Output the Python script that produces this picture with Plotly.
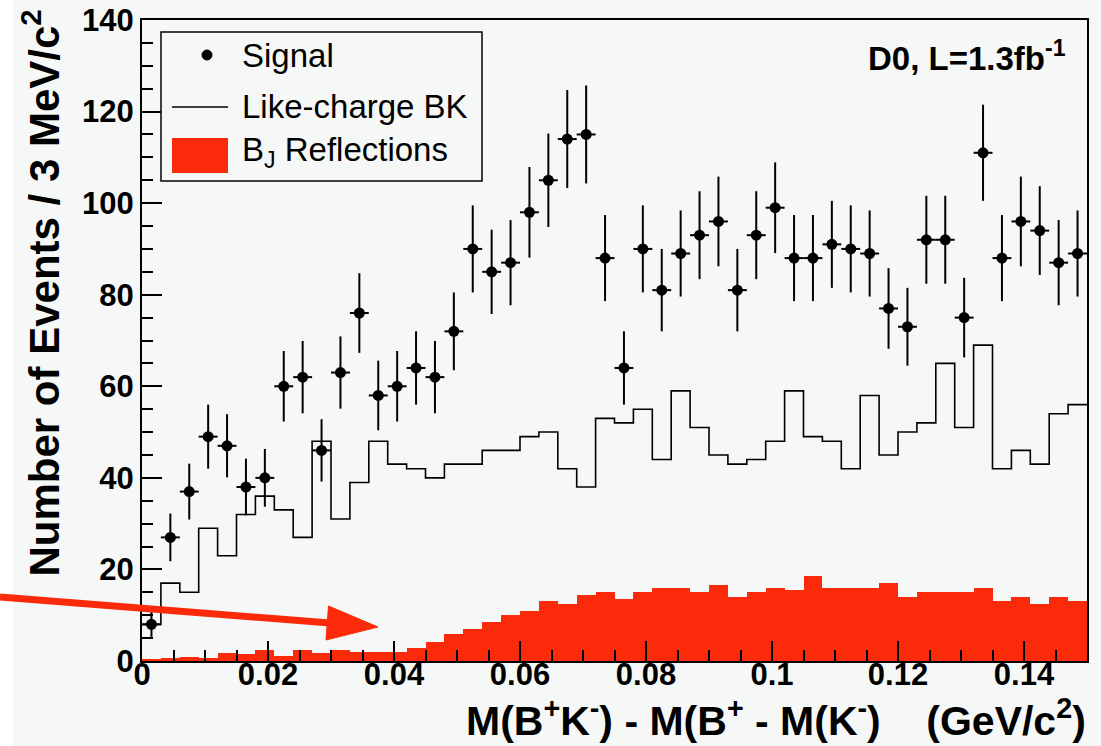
import numpy as np
import plotly.graph_objects as go

# ---------------- data ----------------
x_min, x_max, n_bins = 0.0, 0.15, 50          # 3 MeV/c^2 bins
bin_width = (x_max - x_min) / n_bins

signal = [8, 27, 37, 49, 47, 38, 40, 60, 62, 46,
          63, 76, 58, 60, 64, 62, 72, 90, 85, 87,
          98, 105, 114, 115, 88, 64, 90, 81, 89, 93,
          96, 81, 93, 99, 88, 88, 91, 90, 89, 77,
          73, 92, 92, 75, 111, 88, 96, 94, 87, 89]

signal_err = [2.8, 5.2, 6.1, 7.0, 6.9, 6.2, 6.3, 7.7, 7.9, 6.8,
              7.9, 8.7, 7.6, 7.7, 8.0, 7.9, 8.5, 9.5, 9.2, 9.3,
              9.9, 10.2, 10.7, 10.7, 9.4, 8.0, 9.5, 9.0, 9.4, 9.6,
              9.8, 9.0, 9.6, 9.9, 9.4, 9.4, 9.5, 9.5, 9.4, 8.8,
              8.5, 9.6, 9.6, 8.7, 10.5, 9.4, 9.8, 9.7, 9.3, 9.4]

like_charge_bk = [8, 17, 15, 29, 23, 32, 36, 33, 27, 48,
                  31, 39, 48, 43, 42, 40, 43, 43, 46, 46,
                  49, 50, 42, 38, 53, 52, 55, 44, 59, 51,
                  45, 43, 44, 48, 59, 49, 48, 42, 58, 45,
                  50, 52, 65, 51, 69, 42, 46, 43, 54, 56]

bj_reflections = [0.3, 0.6, 0.95, 0.6, 1.7, 1.5, 2.5, 1.0, 2.3, 1.7,
                  2.4, 2.0, 2.0, 2.0, 2.8, 4.2, 6.0, 7.0, 8.5, 10.0,
                  11.0, 13.0, 12.5, 14.5, 15.0, 13.5, 15.0, 16.0, 16.0, 15.0,
                  16.5, 14.0, 15.0, 16.0, 15.5, 18.5, 16.0, 16.0, 16.0, 17.0,
                  14.0, 15.0, 15.0, 15.0, 16.0, 13.0, 14.0, 12.5, 14.0, 13.0]

x_tickvals = [0, 0.02, 0.04, 0.06, 0.08, 0.1, 0.12, 0.14]
y_tickvals = [0, 20, 40, 60, 80, 100, 120, 140]

edges = np.linspace(x_min, x_max, n_bins + 1)
centers = 0.5 * (edges[:-1] + edges[1:])

# ---------------- style ----------------
BG = "#f5f8f7"
RED = "#fa2a0a"
FONT = "Liberation Sans, Arial, Helvetica, sans-serif"

W, H = 1101, 746
L, R, T, B = 142, 14, 20, 85
PW, PH = W - L - R, H - T - B


def px(xp):   # page pixel -> paper x
    return (xp - L) / PW


def py(yp):   # page pixel -> paper y
    return (H - B - yp) / PH


fig = go.Figure()

# B_J reflections (filled red histogram)
fig.add_trace(go.Bar(
    x=centers, y=bj_reflections, width=bin_width,
    marker=dict(color=RED, line=dict(width=0)),
    name="B_J Reflections", showlegend=False,
))

# Like-charge background (step outline)
fig.add_trace(go.Scatter(
    x=list(edges), y=like_charge_bk + [like_charge_bk[-1]],
    mode="lines", line=dict(color="black", width=1.6, shape="hv"),
    name="Like-charge BK", showlegend=False,
))

# Signal points with errors
fig.add_trace(go.Scatter(
    x=centers, y=signal, mode="markers",
    marker=dict(color="black", size=11),
    error_y=dict(type="data", array=signal_err, color="black", thickness=2, width=0),
    error_x=dict(type="constant", value=bin_width / 2, color="black", thickness=2, width=0),
    name="Signal", showlegend=False,
))

axis_common = dict(
    showline=True, linecolor="black", linewidth=2, mirror=True,
    ticks="inside", ticklen=20, tickwidth=1.5, tickcolor="black",
    showgrid=False, zeroline=False, automargin=False,
    tickfont=dict(family=FONT, size=31, color="black", weight="bold"),
)

fig.update_layout(
    width=W, height=H,
    margin=dict(l=L, r=R, t=T, b=B, autoexpand=False),
    paper_bgcolor=BG, plot_bgcolor=BG,
    bargap=0, showlegend=False,
    xaxis=dict(range=[x_min, x_max], tickvals=x_tickvals, ticklabelstandoff=-15,
               minor=dict(dtick=0.005, tick0=0, ticks="inside", ticklen=11,
                          tickwidth=1.5, tickcolor="black"),
               **axis_common),
    yaxis=dict(range=[0, 140], tickvals=y_tickvals,
               minor=dict(dtick=5, tick0=0, ticks="inside", ticklen=11,
                          tickwidth=1.5, tickcolor="black"),
               **axis_common),
)

shapes = []
# white strip at the far left of the picture
shapes.append(dict(type="rect", xref="paper", yref="paper",
                   x0=px(0), x1=px(13), y0=py(H), y1=py(0),
                   fillcolor="white", line=dict(width=0), layer="below"))

# legend box
shapes.append(dict(type="rect", xref="paper", yref="paper",
                   x0=px(161), x1=px(482), y0=py(181), y1=py(32),
                   fillcolor=BG, line=dict(color="black", width=1.5), layer="above"))
shapes.append(dict(type="circle", xref="paper", yref="paper",
                   x0=px(202), x1=px(212), y0=py(60), y1=py(50),
                   fillcolor="black", line=dict(color="black", width=1), layer="above"))
shapes.append(dict(type="line", xref="paper", yref="paper",
                   x0=px(172), x1=px(228), y0=py(107), y1=py(107),
                   line=dict(color="black", width=1.6), layer="above"))
shapes.append(dict(type="rect", xref="paper", yref="paper",
                   x0=px(172), x1=px(228), y0=py(173), y1=py(138),
                   fillcolor=RED, line=dict(width=0), layer="above"))

# red arrow
shapes.append(dict(type="line", xref="paper", yref="paper",
                   x0=px(0), y0=py(597), x1=px(330), y1=py(623),
                   line=dict(color=RED, width=7), layer="above"))
tri = "M {} {} L {} {} L {} {} Z".format(px(378), py(627), px(326), py(640), px(328.5), py(606))
shapes.append(dict(type="path", xref="paper", yref="paper", path=tri,
                   fillcolor=RED, line=dict(color=RED, width=1), layer="above"))

fig.update_layout(shapes=shapes)

leg_font = dict(family=FONT, size=33, color="black")
annotations = [
    dict(text="Signal", x=px(240), y=py(55), xref="paper", yref="paper",
         xanchor="left", yanchor="middle", showarrow=False, font=leg_font),
    dict(text="Like-charge BK", x=px(240), y=py(107), xref="paper", yref="paper",
         xanchor="left", yanchor="middle", showarrow=False, font=leg_font),
    dict(text="B<sub>J</sub> Reflections", x=px(240), y=py(152), xref="paper", yref="paper",
         xanchor="left", yanchor="middle", showarrow=False, font=leg_font),
    dict(text="D0, L=1.3fb<sup>-1</sup>", x=px(1068), y=py(56), xref="paper", yref="paper",
         xanchor="right", yanchor="middle", showarrow=False,
         font=dict(family=FONT, size=33, color="black", weight="bold")),
    dict(text="M(B<sup>+</sup>K<sup>-</sup>) - M(B<sup>+</sup> - M(K<sup>-</sup>)\u00a0\u00a0\u00a0\u00a0(GeV/c<sup>2</sup>)",
         x=px(1088), y=py(718), xref="paper", yref="paper",
         xanchor="right", yanchor="middle", showarrow=False,
         font=dict(family=FONT, size=41, color="black", weight="bold")),
    dict(text="Number of Events / 3 MeV/c<sup>2</sup>", textangle=-90,
         x=px(41), y=py(8), xref="paper", yref="paper",
         xanchor="center", yanchor="top", showarrow=False,
         font=dict(family=FONT, size=42, color="black", weight="bold")),
]
fig.update_layout(annotations=annotations)

fig.write_html("out.html")
